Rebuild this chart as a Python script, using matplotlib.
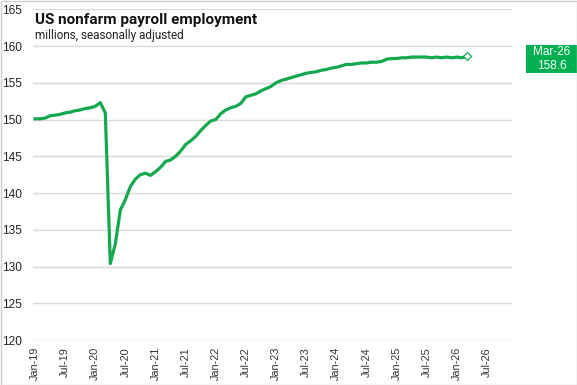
import matplotlib.pyplot as plt
import matplotlib.patches as mpatches
import numpy as np

# monthly payrolls, millions, Jan-19 .. Mar-26
y2019 = [150.1, 150.1, 150.2, 150.5, 150.6, 150.7, 150.9, 151.0, 151.2, 151.3, 151.5, 151.6]
y2020 = [151.8, 152.3, 150.9, 130.4, 133.1, 137.7, 139.1, 140.9, 141.9, 142.5, 142.7, 142.4]
y2021 = [142.9, 143.5, 144.3, 144.5, 145.0, 145.7, 146.6, 147.1, 147.7, 148.5, 149.2, 149.8]
y2022 = [150.0, 150.8, 151.3, 151.6, 151.8, 152.2, 153.1, 153.3, 153.5, 153.9, 154.2, 154.5]
y2023 = [155.0, 155.3, 155.5, 155.7, 155.9, 156.1, 156.3, 156.4, 156.5, 156.7, 156.8, 157.0]
y2024 = [157.1, 157.3, 157.5, 157.5, 157.6, 157.7, 157.7, 157.8, 157.8, 157.9, 158.2, 158.3]
y2025 = [158.3, 158.4, 158.4, 158.5, 158.5, 158.5, 158.5, 158.4, 158.5, 158.4, 158.5, 158.4]
y2026 = [158.5, 158.4, 158.6]

values = np.array(y2019 + y2020 + y2021 + y2022 + y2023 + y2024 + y2025 + y2026)
months = np.arange(len(values))

tick_pos = np.arange(0, 91, 6)
tick_labels = [f"{m}-{yy}" for yy in range(19, 27) for m in ("Jan", "Jul")]
last_label = "Mar-26"

GREEN = "#00B050"
LINE = "#14A84F"

fig = plt.figure(figsize=(5.77, 3.85), dpi=100)
ax = fig.add_axes([33 / 577, 1 - 340 / 385, (512 - 33) / 577, (340 - 9.3) / 385])

ax.plot(months, values, color=LINE, linewidth=2.3, solid_joinstyle="round", zorder=3)
ax.plot(months[-1], values[-1], marker="D", markersize=4.5, markerfacecolor="white",
        markeredgecolor=LINE, markeredgewidth=0.9, zorder=4)

ax.set_xlim(-0.4, 95)
ax.set_ylim(120, 165)
ax.set_yticks(np.arange(120, 166, 5))
ax.set_xticks(tick_pos)
ax.set_xticklabels(tick_labels, rotation=90, family="Liberation Sans", fontsize=7.8, color="#333333")
ax.set_yticklabels([str(v) for v in range(120, 166, 5)], family="Liberation Sans", fontsize=8.6, color="#222222")
ax.tick_params(axis="both", length=0)
ax.tick_params(axis="y", pad=8)
ax.tick_params(axis="x", pad=5)
ax.grid(axis="y", color="#D9D9D9", linewidth=1)
for s in ax.spines.values():
    s.set_visible(False)

fig.text(35 / 577, 1 - 20 / 385, "US nonfarm payroll employment", fontsize=11, fontweight="bold",
         family="Roboto", va="center", ha="left", color="#111111")
fig.text(35 / 577, 1 - 35 / 385, "millions, seasonally adjusted", fontsize=8.5,
         family="Roboto", va="center", ha="left", color="#222222")

# end-of-series label box
fig.patches.append(mpatches.Rectangle((526 / 577, 1 - 72.5 / 385), 51 / 577, 27.5 / 385,
                                      transform=fig.transFigure, facecolor=GREEN, edgecolor="none"))
fig.text(551.5 / 577, 1 - 58.8 / 385, f"{last_label}\n{values[-1]:.1f}", fontsize=8.5,
         family="Liberation Sans", color="white", ha="center", va="center", linespacing=1.2)

# outer frame
fig.patches.append(mpatches.Rectangle((0.5 / 577, 0.5 / 385), 576 / 577, 384 / 385,
                                      transform=fig.transFigure, facecolor="none",
                                      edgecolor="#D0D0D0", linewidth=1))

fig.savefig("out.png", dpi=100)
plt.close(fig)
